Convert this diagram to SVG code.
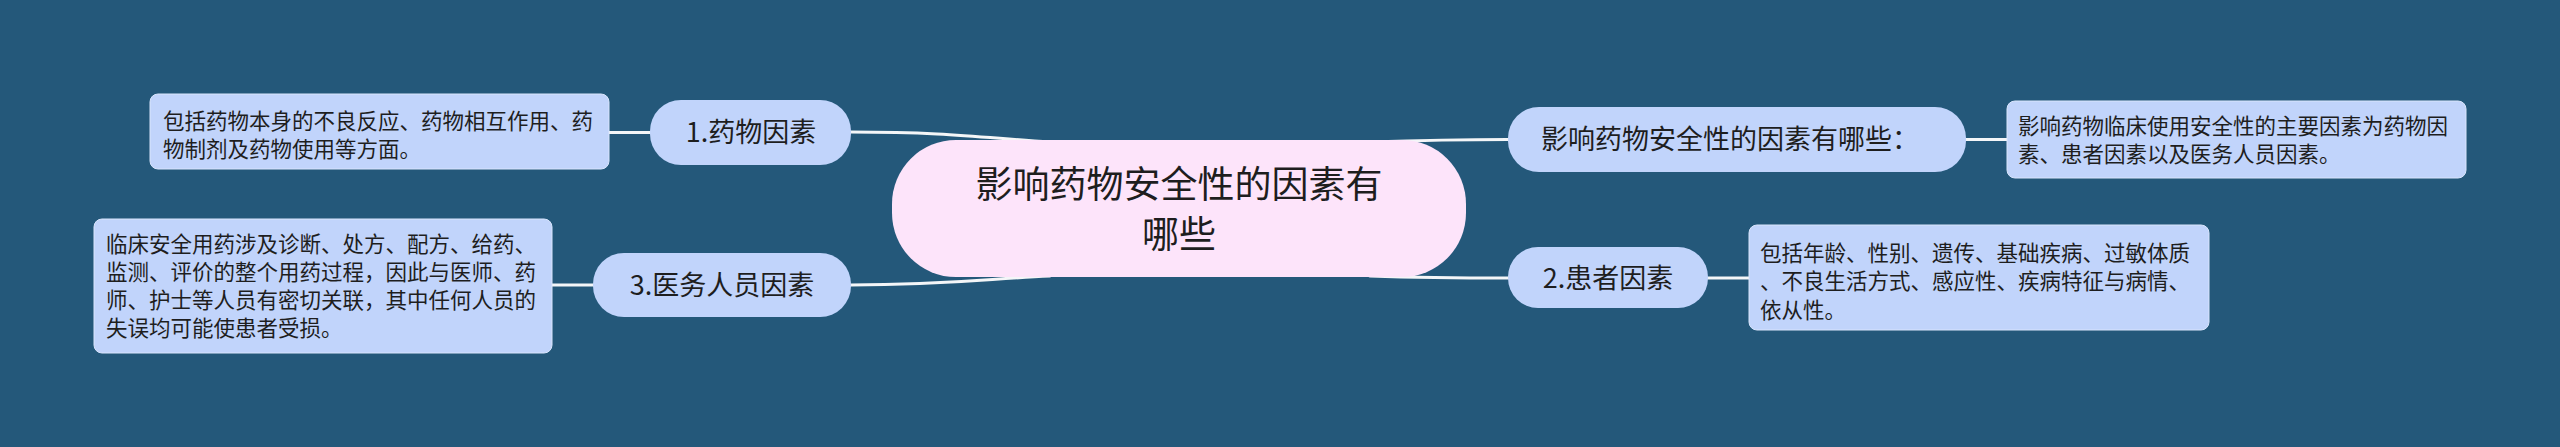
<svg xmlns="http://www.w3.org/2000/svg" width="2560" height="447" viewBox="0 0 2560 447">
<style>
.bg{fill:#24587a}
.root{fill:#fde4fa}
.topic{fill:#c1d4fb}
.note{fill:#c1d4fb;stroke:#d9e5fc;stroke-width:1}
.t{font-family:"Noto Sans CJK SC","Noto Sans",sans-serif;fill:#1e1e1e}
.tr{font-size:37px}
.tt{font-size:27px}
.tn{font-size:21.5px}
.c{fill:none;stroke:#f4f6f8;stroke-width:3;stroke-linecap:round}
</style>
<rect class="bg" x="0" y="0" width="2560" height="447"/>
<g id="connectors">
<path class="c" d="M1050 142 C985 138 950 132 851 132"/>
<path class="c" d="M1050 276 C985 279 950 285 851 285"/>
<path class="c" d="M1370 142 C1430 140 1460 139.5 1508 139.5"/>
<path class="c" d="M1370 276 C1430 278 1460 278 1508 278"/>
<path class="c" d="M609 132.5 L650 132.5"/>
<path class="c" d="M552 285 L593 285"/>
<path class="c" d="M1966 139.5 L2007 139.5"/>
<path class="c" d="M1708 278 L1749 278"/>
</g>
<g id="root">
<rect class="root" x="892" y="140" width="574" height="137" rx="64"/>
<text class="t tr" x="1179" y="198" text-anchor="middle">影响药物安全性的因素有</text>
<text class="t tr" x="1179" y="248" text-anchor="middle">哪些</text>
</g>
<g id="topic1">
<rect class="topic" x="650" y="100" width="201" height="65" rx="31"/>
<text class="t tt" x="751" y="142" text-anchor="middle">1.药物因素</text>
</g>
<g id="note1">
<rect class="note" x="150" y="94" width="459" height="75" rx="8"/>
<text class="t tn" x="163" y="129">包括药物本身的不良反应、药物相互作用、药</text>
<text class="t tn" x="163" y="157">物制剂及药物使用等方面。</text>
</g>
<g id="topic3">
<rect class="topic" x="593" y="253" width="258" height="64" rx="31"/>
<text class="t tt" x="722" y="295" text-anchor="middle">3.医务人员因素</text>
</g>
<g id="note3">
<rect class="note" x="94" y="219" width="458" height="134" rx="8"/>
<text class="t tn" x="106" y="252">临床安全用药涉及诊断、处方、配方、给药、</text>
<text class="t tn" x="106" y="280">监测、评价的整个用药过程，因此与医师、药</text>
<text class="t tn" x="106" y="308">师、护士等人员有密切关联，其中任何人员的</text>
<text class="t tn" x="106" y="336">失误均可能使患者受损。</text>
</g>
<g id="topic0">
<rect class="topic" x="1508" y="107" width="458" height="65" rx="31"/>
<text class="t tt" x="1541" y="149">影响药物安全性的因素有哪些：</text>
</g>
<g id="note0">
<rect class="note" x="2007" y="101" width="459" height="77" rx="8"/>
<text class="t tn" x="2018" y="134">影响药物临床使用安全性的主要因素为药物因</text>
<text class="t tn" x="2018" y="162">素、患者因素以及医务人员因素。</text>
</g>
<g id="topic2">
<rect class="topic" x="1508" y="247" width="200" height="61" rx="30"/>
<text class="t tt" x="1608" y="288" text-anchor="middle">2.患者因素</text>
</g>
<g id="note2">
<rect class="note" x="1749" y="225" width="460" height="105" rx="8"/>
<text class="t tn" x="1760" y="261">包括年龄、性别、遗传、基础疾病、过敏体质</text>
<text class="t tn" x="1760" y="289">、不良生活方式、感应性、疾病特征与病情、</text>
<text class="t tn" x="1760" y="318">依从性。</text>
</g>
</svg>
